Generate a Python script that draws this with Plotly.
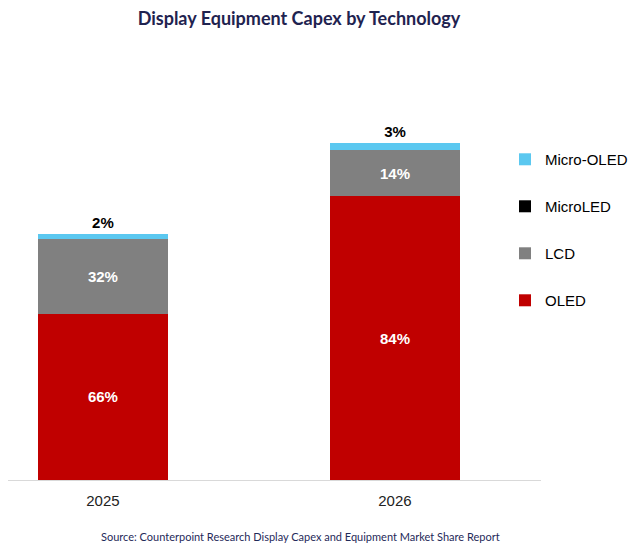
import plotly.graph_objects as go

years = ["2025", "2026"]
# segment heights (arbitrary capex units)
oled = [6.77, 11.55]
lcd = [3.05, 1.86]
microled = [0.0, 0.0]
micro_oled = [0.18, 0.30]
# share labels as printed on the chart
oled_lbl = ["66%", "84%"]
lcd_lbl = ["32%", "14%"]
micro_oled_lbl = ["2%", "3%"]

BAR_FONT = "Liberation Sans, Arial, sans-serif"

fig = go.Figure()
fig.add_bar(x=years, y=oled, name="OLED", marker_color="#C00000",
            text=oled_lbl, textposition="inside", insidetextanchor="middle",
            textfont=dict(family=BAR_FONT, size=15, color="white", weight="bold"),
            legendgroup="oled", legendrank=4, width=0.445)
fig.add_bar(x=years, y=lcd, name="LCD", marker_color="#808080",
            text=lcd_lbl, textposition="inside", insidetextanchor="middle",
            textfont=dict(family=BAR_FONT, size=15, color="white", weight="bold"),
            legendgroup="lcd", legendrank=3, width=0.445)
fig.add_bar(x=years, y=microled, name="MicroLED", marker_color="#000000",
            legendgroup="microled", legendrank=2, width=0.445)
fig.add_bar(x=years, y=micro_oled, name="Micro-OLED", marker_color="#5BC8F0",
            text=micro_oled_lbl, textposition="outside",
            outsidetextfont=dict(family=BAR_FONT, size=15, color="black", weight="bold"),
            constraintext="none", cliponaxis=False,
            legendgroup="microoled", legendrank=1, width=0.445)

for tr in fig.data:
    tr.marker.line.width = 0

fig.update_layout(
    barmode="stack",
    width=629, height=541,
    margin=dict(l=0, r=96, t=112, b=69),
    paper_bgcolor="white", plot_bgcolor="white",
    title=dict(text="<b>Display Equipment Capex by Technology</b>",
               font=dict(family="Lato, sans-serif", size=18, color="#1F2350"),
               x=0.4626, xref="container", xanchor="center",
               y=0.9797, yref="container", yanchor="middle"),
    legend=dict(traceorder="grouped", tracegroupgap=24.5,
                x=0.9325, xanchor="left", y=0.936, yanchor="top",
                font=dict(family=BAR_FONT, size=15, color="#000000"),
                bgcolor="rgba(0,0,0,0)"),
    xaxis=dict(type="category", range=[-0.325, 1.5], showline=True,
               linecolor="#D9D9D9", linewidth=1, ticks="",
               ticklabelstandoff=7,
               tickfont=dict(family=BAR_FONT, size=15, color="#222222"),
               showgrid=False, zeroline=False),
    yaxis=dict(range=[0, 14.65], visible=False, showgrid=False, zeroline=False),
    showlegend=True,
    annotations=[dict(text="Source: Counterpoint Research Display Capex and Equipment Market Share Report",
                      xref="paper", yref="paper", x=0.548, y=-0.1556,
                      xanchor="center", yanchor="middle", showarrow=False,
                      font=dict(family="Lato, sans-serif", size=11, color="#1F2A5A"))],
)

fig.write_html("out.html")
